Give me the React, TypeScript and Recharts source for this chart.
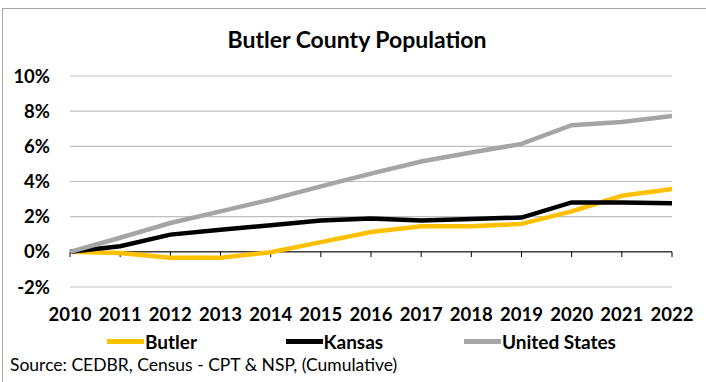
import React from "react";
import {
  LineChart,
  Line,
  XAxis,
  YAxis,
  CartesianGrid,
  ReferenceLine,
} from "recharts";

// Cumulative population change since 2010, in percent
const years = ["2010", "2011", "2012", "2013", "2014", "2015", "2016", "2017", "2018", "2019", "2020", "2021", "2022"];
const butler = [0, -0.06, -0.34, -0.34, -0.02, 0.55, 1.13, 1.45, 1.45, 1.59, 2.3, 3.19, 3.57];
const kansas = [0, 0.32, 0.98, 1.26, 1.51, 1.78, 1.9, 1.78, 1.87, 1.95, 2.81, 2.81, 2.76];
const unitedStates = [0, 0.8, 1.64, 2.3, 2.97, 3.72, 4.45, 5.14, 5.65, 6.14, 7.2, 7.39, 7.73];
const yTicks = [-2, 0, 2, 4, 6, 8, 10];

const SERIES = [
  { key: "Butler", color: "#FFC000" },
  { key: "Kansas", color: "#000000" },
  { key: "United States", color: "#A5A5A5" },
];

const FONT = "Lato, 'Noto Sans', sans-serif";

const data = years.map((year, i) => ({
  year,
  Butler: butler[i],
  Kansas: kansas[i],
  "United States": unitedStates[i],
}));

export default function App() {
  return (
    <div
      style={{
        position: "absolute",
        left: 0,
        top: 0,
        width: 706,
        height: 382,
        background: "#fff",
        fontFamily: FONT,
        overflow: "hidden",
      }}
    >
      {/* chart frame: only top and left edges show in the crop */}
      <div
        style={{
          position: "absolute",
          left: 2,
          top: 8,
          right: -4,
          bottom: -4,
          borderTop: "1.5px solid #A6A6A6",
          borderLeft: "1.5px solid #A6A6A6",
        }}
      />
      <div
        style={{
          position: "absolute",
          left: 0,
          width: 714,
          top: 25,
          textAlign: "center",
          fontSize: 23,
          fontWeight: 700,
          color: "#000",
        }}
      >
        Butler County Population
      </div>

      <LineChart
        width={706}
        height={382}
        data={data}
        margin={{ top: 76, right: 34, bottom: 60, left: 0 }}
      >
        <CartesianGrid vertical={false} stroke="#BFBFBF" strokeWidth={1.2} />
        <XAxis
          dataKey="year"
          axisLine={false}
          tickLine={false}
          tickSize={0}
          tickMargin={21}
          height={35}
          interval={0}
          tick={{ fontSize: 18.5, fontWeight: 700, fill: "#000", fontFamily: FONT }}
        />
        <YAxis
          domain={[-2, 10]}
          ticks={yTicks}
          width={70}
          axisLine={false}
          tickLine={false}
          tickSize={0}
          tickMargin={20}
          tickFormatter={(v) => `${v}%`}
          tick={{ fontSize: 18.5, fontWeight: 700, fill: "#000", fontFamily: FONT }}
        />
        <ReferenceLine y={0} stroke="#000" strokeWidth={1} />
        {years.map((y) => (
          <ReferenceLine
            key={y}
            segment={[
              { x: y, y: 0 },
              { x: y, y: -0.3 },
            ]}
            stroke="#000"
            strokeWidth={1}
          />
        ))}
        {SERIES.map((s) => (
          <Line
            key={s.key}
            dataKey={s.key}
            stroke={s.color}
            strokeWidth={4.5}
            dot={false}
            activeDot={false}
            isAnimationActive={false}
          />
        ))}
      </LineChart>

      <div
        style={{
          position: "absolute",
          left: 107,
          top: 330,
          display: "flex",
          fontSize: 19,
          fontWeight: 700,
          color: "#000",
        }}
      >
        {SERIES.map((s) => (
          <div key={s.key} style={{ width: 178.5, display: "flex", alignItems: "center" }}>
            <span
              style={{
                display: "inline-block",
                width: 37,
                height: 4.5,
                background: s.color,
                marginRight: 1,
              }}
            />
            {s.key}
          </div>
        ))}
      </div>

      <div
        style={{
          position: "absolute",
          left: 10,
          top: 354,
          fontSize: 17.5,
          color: "#000",
        }}
      >
        Source: CEDBR, Census - CPT &amp; NSP, (Cumulative)
      </div>
    </div>
  );
}
